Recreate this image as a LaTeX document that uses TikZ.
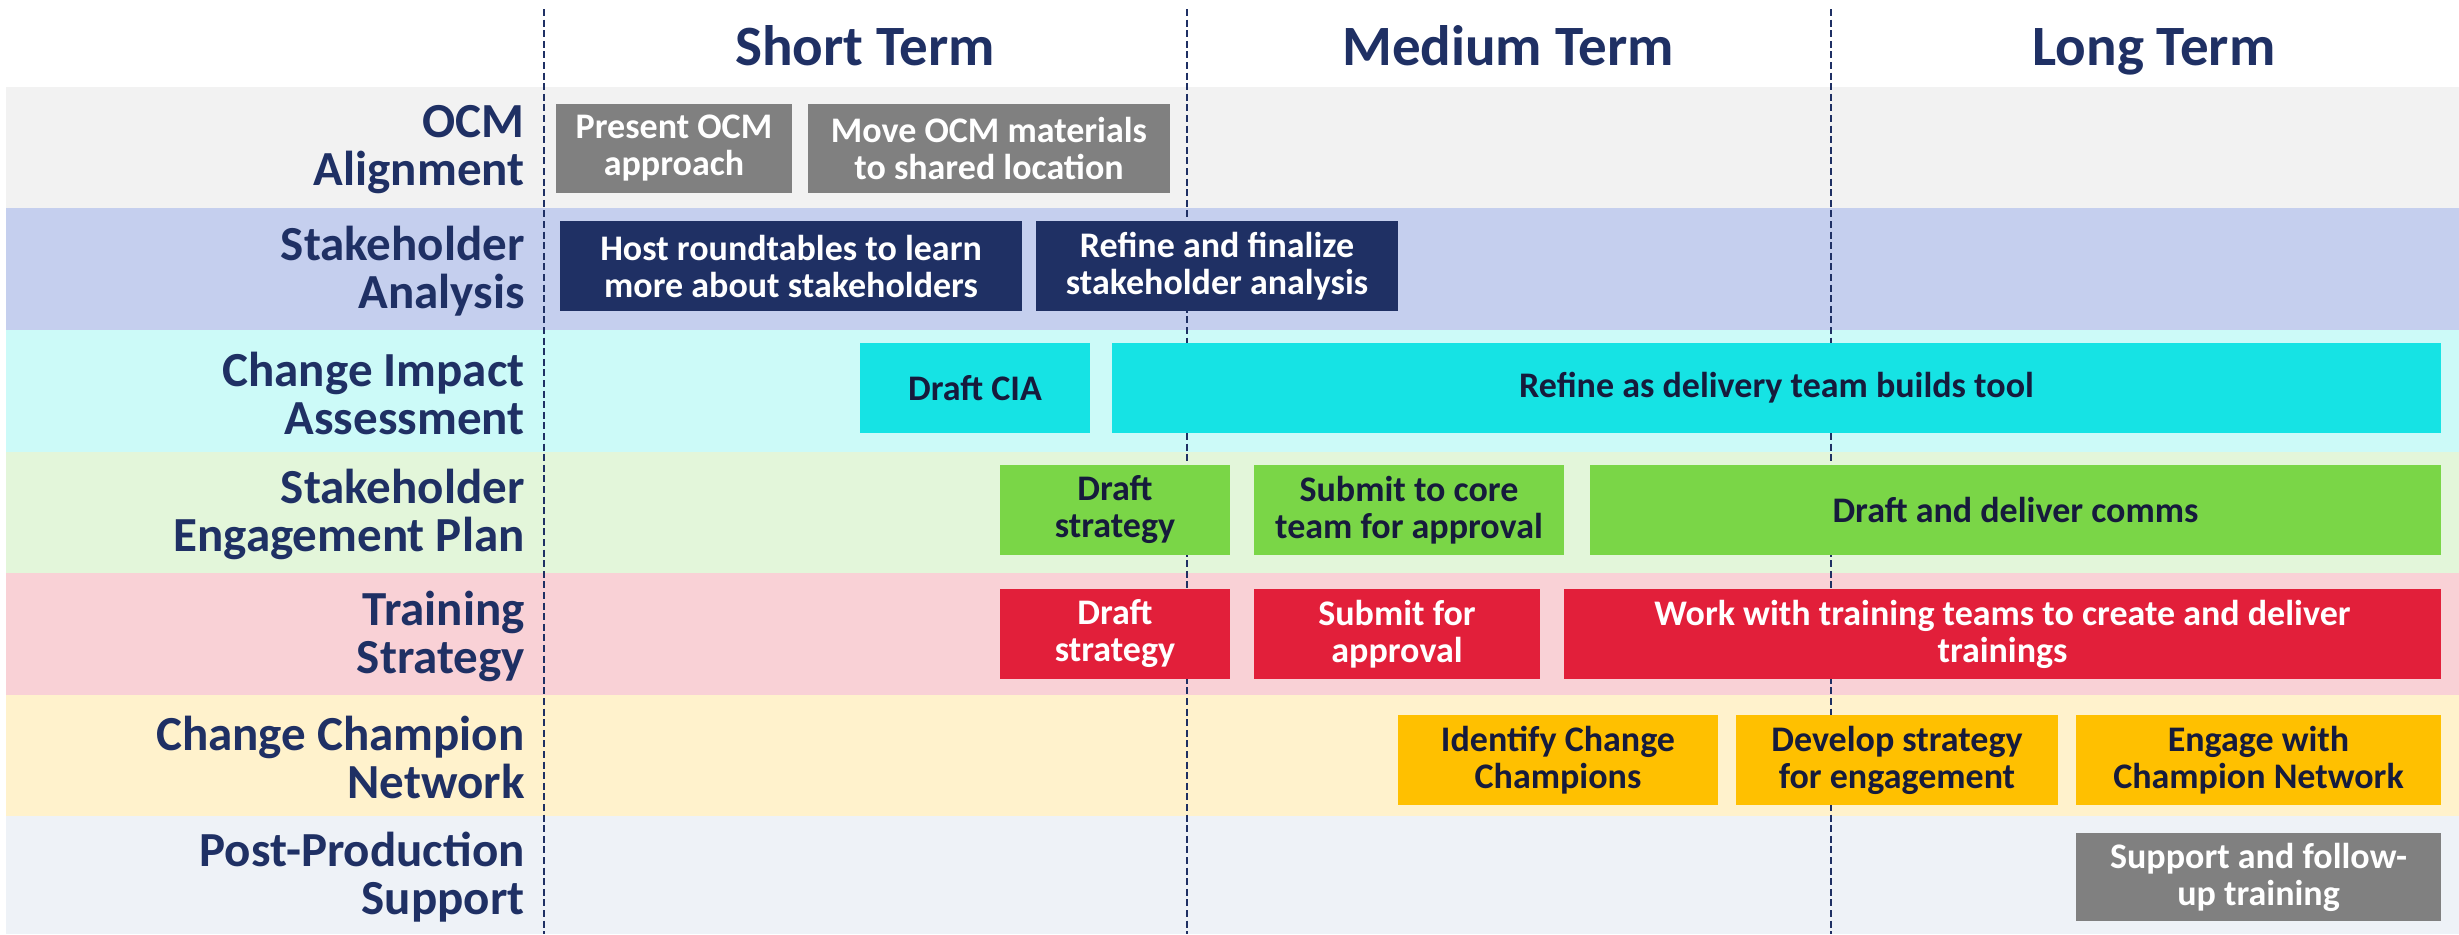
\documentclass[tikz,border=0pt]{standalone}
\usepackage{fontspec}
\setmainfont{Carlito}
\usetikzlibrary{positioning}

\definecolor{navy}{HTML}{1F3064}
\definecolor{ink}{HTML}{161B3C}
\definecolor{bandocm}{HTML}{F2F2F2}
\definecolor{bandsa}{HTML}{C5CFEE}
\definecolor{bandcia}{HTML}{CCFAF8}
\definecolor{bandsep}{HTML}{E3F6DA}
\definecolor{bandtr}{HTML}{F9D1D6}
\definecolor{bandccn}{HTML}{FFF2CC}
\definecolor{bandpps}{HTML}{EEF2F7}
\definecolor{boxgrey}{HTML}{808080}
\definecolor{boxnavy}{HTML}{1F3064}
\definecolor{boxcyan}{HTML}{16E3E4}
\definecolor{boxgreen}{HTML}{7AD647}
\definecolor{boxred}{HTML}{E21F3A}
\definecolor{boxyellow}{HTML}{FFC000}

\begin{document}
\begin{tikzpicture}[x=0.5pt, y=-0.5pt,
  term/.style={anchor=base, text=navy, font=\fontsize{28.5}{30}\selectfont\bfseries},
  lane/.style={anchor=east, inner sep=0pt, align=right, text=navy, font=\fontsize{24.5}{24}\selectfont\bfseries},
  task/.style={rectangle, inner sep=0pt, minimum height=45pt, align=center, font=\fontsize{18}{18.5}\selectfont\bfseries},
  grey/.style={fill=boxgrey, text=white},
  dark/.style={fill=boxnavy, text=white},
  cyan/.style={fill=boxcyan, text=ink},
  green/.style={fill=boxgreen, text=ink},
  red/.style={fill=boxred, text=white},
  yellow/.style={fill=boxyellow, text=ink},
  divider/.style={navy, line width=1.4pt, dash pattern=on 3.5pt off 1.8pt}]
	\useasboundingbox (0,0) rectangle (2459,934);
	\fill[white] (0,0) rectangle (2459,934);

	% swim lanes
	\fill[bandocm] (6,87) rectangle (2459,208);
	\fill[bandsa] (6,208) rectangle (2459,330);
	\fill[bandcia] (6,330) rectangle (2459,452);
	\fill[bandsep] (6,452) rectangle (2459,573);
	\fill[bandtr] (6,573) rectangle (2459,695);
	\fill[bandccn] (6,695) rectangle (2459,816);
	\fill[bandpps] (6,816) rectangle (2459,934);

	% term dividers
	\foreach \x in {544,1187,1831}
		\draw[divider] (\x,9) -- (\x,934);

	% column headings
	\node[term] (short) at (865,65) {Short Term};
	\node[term] (medium) at (1508,65) {Medium Term};
	\node[term] (long) at (2154,65) {Long Term};

	% lane labels
	\node[lane] (ocm) at (525,150) {OCM\\Alignment};
	\node[lane] (sa) at (525,271) {Stakeholder\\Analysis};
	\node[lane] (cia) at (525,393) {Change Impact\\Assessment};
	\node[lane] (sep) at (525,514) {Stakeholder\\Engagement Plan};
	\node[lane] (tr) at (525,636) {Training\\Strategy};
	\node[lane] (ccn) at (525,757) {Change Champion\\Network};
	\node[lane] (pps) at (525,877) {Post-Production\\Support};

	% OCM alignment
	\node[task, grey, minimum width=118pt, minimum height=44.5pt] (present) at (674,148.5) {Present OCM\\approach};
	\node[task, grey, minimum width=181pt, minimum height=44.5pt] (materials) at (989,148.5) {Move OCM materials\\to shared location};

	% stakeholder analysis
	\node[task, dark, minimum width=231pt] (roundtables) at (791,266) {Host roundtables to learn\\more about stakeholders};
	\node[task, dark, minimum width=181pt] (finalize) at (1217,266) {Refine and finalize\\stakeholder analysis};

	% change impact assessment
	\node[task, cyan, minimum width=115pt] (draftcia) at (975,388) {Draft CIA};
	\node[task, cyan, minimum width=664.5pt] (refinecia) at (1776.5,388) {Refine as delivery team builds tool};

	% engagement plan
	\node[task, green, minimum width=115pt] (sepdraft) at (1115,510) {Draft\\strategy};
	\node[task, green, minimum width=155pt] (sepsubmit) at (1409,510) {Submit to core\\team for approval};
	\node[task, green, minimum width=425.5pt] (comms) at (2015.5,510) {Draft and deliver comms};

	% training strategy
	\node[task, red, minimum width=115pt] (trdraft) at (1115,634) {Draft\\strategy};
	\node[task, red, minimum width=143pt] (trsubmit) at (1397,634) {Submit for\\approval};
	\node[task, red, minimum width=438.5pt] (trwork) at (2002.5,634) {Work with training teams to create and deliver\\trainings};

	% champion network
	\node[task, yellow, minimum width=160pt] (identify) at (1558,760) {Identify Change\\Champions};
	\node[task, yellow, minimum width=161pt] (develop) at (1897,760) {Develop strategy\\for engagement};
	\node[task, yellow, minimum width=182.5pt] (engage) at (2258.5,760) {Engage with\\Champion Network};

	% post-production
	\node[task, grey, minimum width=182.5pt, minimum height=44pt] (support) at (2258.5,877) {Support and follow-\\up training};
\end{tikzpicture}
\end{document}
